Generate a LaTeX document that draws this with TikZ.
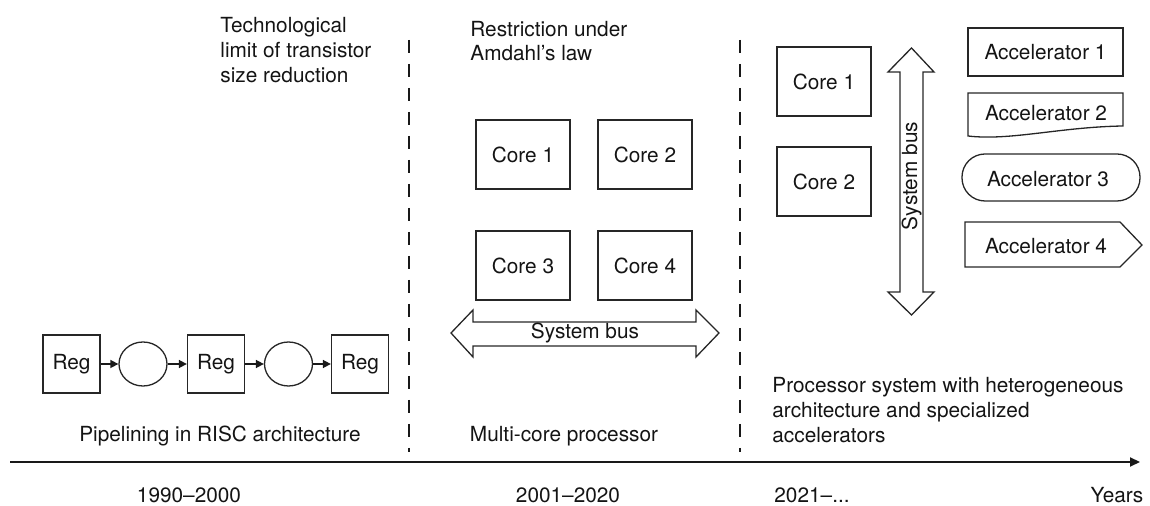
\documentclass[tikz,border=0pt]{standalone}
\usepackage{fontspec}
\setmainfont{TeX Gyre Heros}
\usetikzlibrary{arrows.meta,shapes.geometric}

\tikzset{
  lbl/.style={inner sep=0pt, font=\fontsize{10.4pt}{12.3pt}\selectfont, text=black!92},
  box/.style={draw=black!85, line width=0.65pt, inner sep=0pt, lbl},
  shapeline/.style={draw=black!85, line width=0.65pt},
  conn/.style={draw=black!90, line width=0.8pt, -{Triangle[length=4pt,width=4pt]}},
  divider/.style={draw=black!90, line width=1pt, dash pattern=on 6.5pt off 5.5pt},
  timeaxis/.style={draw=black!90, line width=1pt, -{Triangle[length=5pt,width=4.5pt]}},
}

\begin{document}
\begin{tikzpicture}[x=0.5pt, y=-0.5pt]
\useasboundingbox (0,0) rectangle (1150,506);

% ---- era dividers and time axis ----
\coordinate (d1t) at (409,40);  \coordinate (d1b) at (409,452);
\coordinate (d2t) at (740,40);  \coordinate (d2b) at (740,452);
\draw[divider] (d1t) -- (d1b);
\draw[divider] (d2t) -- (d2b);

\coordinate (ax0) at (10,462); \coordinate (ax1) at (1140,462);
\draw[timeaxis] (ax0) -- (ax1);

\node[lbl] (y1) at (189,495.5) {1990–2000};
\node[lbl] (y2) at (568,495.5) {2001–2020};
\node[lbl] (y3) at (812,495.5) {2021–...};
\node[lbl] (yr) at (1117,495.5) {Years};

% ---- captions ----
\node[lbl, anchor=west, align=left] (limit) at (220,50)
  {Technological\\limit of transistor\\size reduction};
\node[lbl, anchor=west, align=left] (amdahl) at (470,41)
  {Restriction under\\Amdahl’s law};
\node[lbl] (cap1) at (220,436) {Pipelining in RISC architecture};
\node[lbl] (cap2) at (564,436) {Multi-core processor};
\node[lbl, anchor=west, align=left] (cap3) at (772,410)
  {Processor system with heterogeneous\\architecture and specialized\\accelerators};

% ---- pipeline ----
\tikzset{reg/.style={box, minimum width=28.5pt, minimum height=29pt},
         stage/.style={shapeline, ellipse, inner sep=0pt, minimum width=24pt, minimum height=22pt}}
\node[reg] (r1) at (71.5,364) {Reg};
\node[stage] (s1) at (143,364) {};
\node[reg] (r2) at (216,364) {Reg};
\node[stage] (s2) at (288.5,364) {};
\node[reg] (r3) at (360,364) {Reg};
\draw[conn] (r1) -- (s1);
\draw[conn] (s1) -- (r2);
\draw[conn] (r2) -- (s2);
\draw[conn] (s2) -- (r3);

% ---- multi-core ----
\tikzset{core/.style={box, minimum width=47pt, minimum height=34.5pt}}
\node[core] (c1) at (523,154.5) {Core 1};
\node[core] (c2) at (645,154.5) {Core 2};
\node[core] (c3) at (523,265.5) {Core 3};
\node[core] (c4) at (645,265.5) {Core 4};

% horizontal system bus
\draw[shapeline] (451,333) -- (473,310) -- (473,322) -- (696,322) -- (696,310)
  -- (719,333) -- (696,357) -- (696,346) -- (473,346) -- (473,357) -- cycle;
\node[lbl] (hbus) at (585,333) {System bus};

% ---- heterogeneous system ----
\node[core] (h1) at (824,81.5) {Core 1};
\node[core] (h2) at (824,181.5) {Core 2};

% vertical system bus
\draw[shapeline] (911.5,48) -- (934,72) -- (923,72) -- (923,292) -- (934,292)
  -- (911.5,315) -- (888,292) -- (900,292) -- (900,72) -- (888,72) -- cycle;
\node[lbl, rotate=90] (vbus) at (911.5,176) {System bus};

% accelerators
\node[box, minimum width=77.5pt, minimum height=24pt] (a1) at (1045.5,52) {Accelerator 1};

\draw[shapeline] (968,93) -- (1123,93) -- (1123,126)
  .. controls (1060,127) and (1010,141) .. (968,136) -- cycle;
\node[lbl] (a2) at (1046,113) {Accelerator 2};

\draw[shapeline, rounded corners=11.5pt] (962,154) rectangle (1140,201);
\node[lbl] (a3) at (1048,179) {Accelerator 3};

\draw[shapeline] (965,222) -- (1120,222) -- (1142,245) -- (1120,267) -- (965,267) -- cycle;
\node[lbl] (a4) at (1046,246) {Accelerator 4};

\end{tikzpicture}
\end{document}
